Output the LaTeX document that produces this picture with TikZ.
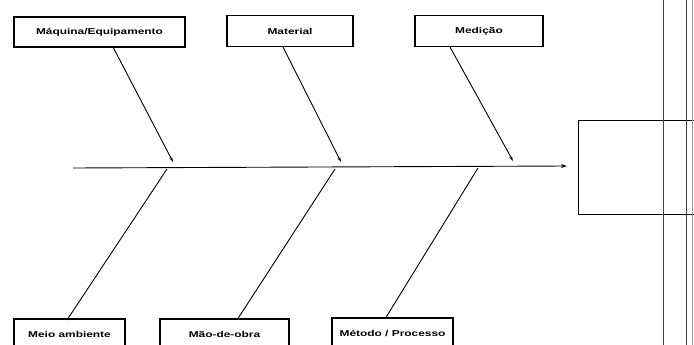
\documentclass[tikz,border=0pt]{standalone}
\usepackage{fontspec}
\setmainfont{Liberation Sans}
\newfontfamily\widefont[FakeStretch=1.4]{Liberation Sans}
\usetikzlibrary{arrows.meta}
\begin{document}
\begin{tikzpicture}[x=1pt,y=-1pt,
  cause/.style={draw=black,line width=1.6pt,fill=white,inner sep=0pt,font=\widefont\fontsize{8.5}{10}\selectfont\bfseries},
  bone/.style={line width=0.9pt},
  bonetip/.style={line width=0.9pt,-{Stealth[length=5pt,width=3pt]}}]
\useasboundingbox (0,0) rectangle (694,345);
\clip (0,0) rectangle (694,345);
\fill[white] (0,0) rectangle (694,345);
% top cause boxes
\node[cause,minimum width=171pt,minimum height=30pt] (m1) at (99.5,32) {Máquina/Equipamento};
\node[cause,minimum width=126pt,minimum height=31pt] (m2) at (290,31) {Material};
\node[cause,minimum width=128pt,minimum height=31pt] (m3) at (479,31) {Medição};
% bottom cause boxes (cut by page edge)
\node[cause,minimum width=111pt,minimum height=30pt] (b1) at (69.5,334) {Meio ambiente};
\node[cause,minimum width=129pt,minimum height=30pt] (b2) at (224.5,334) {Mão-de-obra};
\node[cause,minimum width=121pt,minimum height=30pt] (b3) at (392.5,333) {Método / Processo};
% effect box
\node[draw=black,line width=0.7pt,minimum width=140pt,minimum height=94pt,inner sep=0pt] (eff) at (648,167) {};
% vertical rules
\coordinate (v1t) at (663,0); \coordinate (v1b) at (663,345);
\coordinate (v2t) at (686,0); \coordinate (v2b) at (686,345);
\coordinate (v3t) at (692,0); \coordinate (v3b) at (692,345);
\draw[line width=0.8pt,black!75] (v1t) -- (v1b);
\draw[line width=0.8pt,black!75] (v2t) -- (v2b);
\draw[line width=0.5pt,black!40] (v3t) -- (v3b);
% spine
\coordinate (s0) at (73,168);
\coordinate (s1) at (567,166);
\draw[line width=0.9pt,-{Stealth[length=6pt,width=4pt]}] (s0) -- (s1);
% spine points
\coordinate (t1) at (173,162); \coordinate (t2) at (341,162); \coordinate (t3) at (513,161);
\coordinate (p1) at (167,169); \coordinate (p2) at (335,169); \coordinate (p3) at (478,168);
\coordinate (m1s) at (113,47); \coordinate (m2s) at (283,47); \coordinate (m3s) at (450,47);
\coordinate (b1s) at (67,320); \coordinate (b2s) at (237,320); \coordinate (b3s) at (385,319);
\draw[bonetip] (m1s) -- (t1);
\draw[bonetip] (m2s) -- (t2);
\draw[bonetip] (m3s) -- (t3);
\draw[bone] (p1) -- (b1s);
\draw[bone] (p2) -- (b2s);
\draw[bone] (p3) -- (b3s);
\end{tikzpicture}
\end{document}
